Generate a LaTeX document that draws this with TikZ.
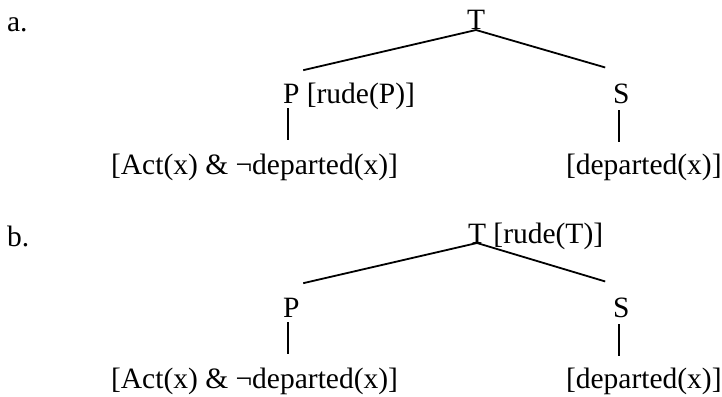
\documentclass[tikz,border=0pt]{standalone}
\usepackage{fontspec}
\setmainfont{Liberation Serif}
\begin{document}
\begin{tikzpicture}[x=1pt,y=-1pt,
  lbl/.style={inner sep=0pt, outer sep=0pt, anchor=base west,
              font=\fontsize{29.5}{34}\selectfont},
  edge/.style={line width=1.8pt}]
\useasboundingbox (0,0) rectangle (722,396);

% ---- tree (a)
\node[lbl] (la)  at (7,32)    {a.};
\node[lbl] (aT)  at (467,30)  {T};
\node[lbl] (aP)  at (283,103) {P};
\node[lbl] (aPr) at ([xshift=7.4pt]aP.base east) {[rude(P)]};
\node[lbl] (aS)  at (613,103) {S};
\node[lbl, anchor=base east] (aL) at (398,174) {[Act(x) \& ¬departed(x)]};
\node[lbl] (aR)  at (566,174) {[departed(x)]};

\draw[edge] ([xshift=12pt,yshift=13.5pt]aP.north) -- (aT.base)
            -- ([xshift=-16pt,yshift=16pt]aS.north);
\coordinate (aPd) at ([xshift=-3pt]aP.south);
\coordinate (aSd) at ([xshift=-2pt]aS.south);
\draw[edge, shorten <=5pt, shorten >=14pt] (aPd) -- (aPd |- aL.north);
\draw[edge, shorten <=7pt, shorten >=12pt] (aSd) -- (aSd |- aR.north);

% ---- tree (b)
\node[lbl] (lb)  at (7,246)   {b.};
\node[lbl] (bT)  at (468,243) {T};
\node[lbl] (bTr) at ([xshift=7.4pt]bT.base east) {[rude(T)]};
\node[lbl] (bP)  at (283,317) {P};
\node[lbl] (bS)  at (613,317) {S};
\node[lbl, anchor=base east] (bL) at (398,388) {[Act(x) \& ¬departed(x)]};
\node[lbl] (bR)  at (566,388) {[departed(x)]};

\draw[edge] ([xshift=12pt,yshift=14.5pt]bP.north) -- (bT.base)
            -- ([xshift=-16pt,yshift=16pt]bS.north);
\coordinate (bPd) at ([xshift=-3pt]bP.south);
\coordinate (bSd) at ([xshift=-2pt]bS.south);
\draw[edge, shorten <=5pt, shorten >=14pt] (bPd) -- (bPd |- bL.north);
\draw[edge, shorten <=7pt, shorten >=12pt] (bSd) -- (bSd |- bR.north);
\end{tikzpicture}
\end{document}
